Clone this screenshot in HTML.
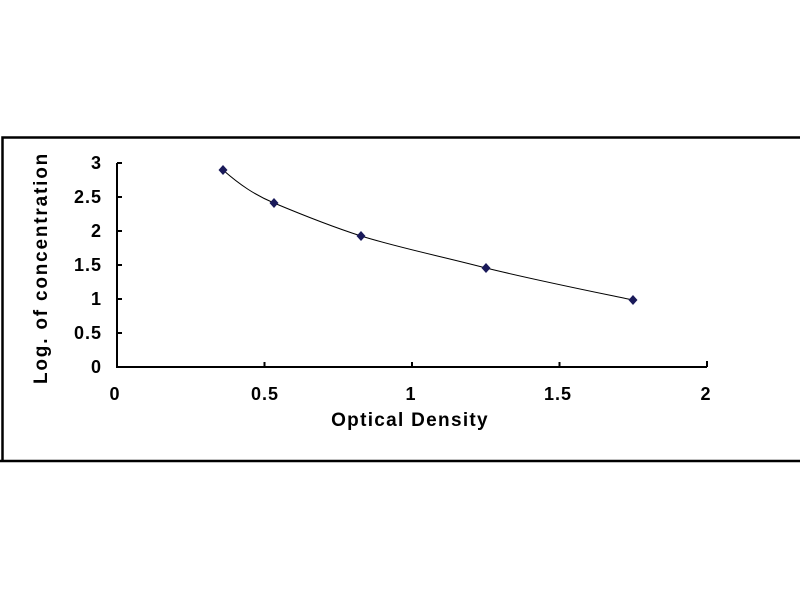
<!DOCTYPE html>
<html><head><style>body{margin:0;background:#fff}</style></head><body>
<svg width="800" height="600" xmlns="http://www.w3.org/2000/svg" font-family="Liberation Sans, sans-serif" font-weight="bold">
<rect x="0" y="0" width="800" height="600" fill="#fff"/>
<path d="M2.5,462 V137.5 H802" fill="none" stroke="#000" stroke-width="2.5"/>
<line x1="0" y1="461" x2="800" y2="461" stroke="#000" stroke-width="2.5"/>
<g stroke="#000" stroke-width="2" fill="none">
<path d="M117,163 V367 H707"/>
<path d="M117,163 h5 M117,197 h5 M117,231 h5 M117,265 h5 M117,299 h5 M117,333 h5"/>
<path d="M264.5,367 v-5 M412,367 v-5 M559.5,367 v-5 M707,367 v-6"/>
</g>
<g font-size="18" text-anchor="end" fill="#000" letter-spacing="1">
<text x="102" y="169">3</text><text x="102" y="203">2.5</text><text x="102" y="237">2</text>
<text x="102" y="271">1.5</text><text x="102" y="305">1</text><text x="102" y="339">0.5</text><text x="102" y="373">0</text>
</g>
<g font-size="18" text-anchor="middle" fill="#000" letter-spacing="1">
<text x="115" y="400">0</text><text x="265" y="400">0.5</text><text x="411" y="400">1</text>
<text x="558" y="400">1.5</text><text x="706" y="400">2</text>
</g>
<text x="410" y="426" font-size="19" text-anchor="middle" fill="#000" letter-spacing="1.3">Optical Density</text>
<text transform="translate(47,268) rotate(-90)" font-size="19" text-anchor="middle" fill="#000" letter-spacing="1.8">Log. of concentration</text>
<path d="M223,170 C240,185 255,195 274,203 C305,216 330,226 361,236 C400,248 440,256 486,268 C535,280 585,290 633,300" fill="none" stroke="#000" stroke-width="1"/>
<g fill="#1a1a5a">
<path d="M223,165 l4.5,5 -4.5,5 -4.5,-5z"/><path d="M274,198 l4.5,5 -4.5,5 -4.5,-5z"/>
<path d="M361,231 l4.5,5 -4.5,5 -4.5,-5z"/><path d="M486,263 l4.5,5 -4.5,5 -4.5,-5z"/>
<path d="M633,295 l4.5,5 -4.5,5 -4.5,-5z"/>
</g>
</svg>
</body></html>
